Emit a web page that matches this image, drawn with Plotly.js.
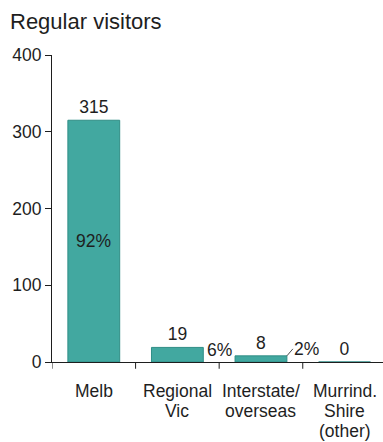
<!DOCTYPE html>
<html>
<head>
<meta charset="utf-8">
<script src="https://cdn.plot.ly/plotly-3.0.1.min.js"></script>
<style>
  html, body { margin: 0; padding: 0; background: #ffffff; }
  #chart { width: 383px; height: 442px; }
</style>
</head>
<body>
<div id="chart"></div>
<script>
// Where regular visitors come from
const categories = ['Melb', 'Regional\nVic', 'Interstate/\noverseas', 'Murrind.\nShire\n(other)'];
const visitors = [315, 19, 8, 0];
const shares = [92, 6, 2, null];

const yTicks = [0, 100, 200, 300, 400];

const barWidth = 0.62;
const barFill = '#42a8a0';
const barEdge = '#2f8d86';
const ink = '#1e1e1e';
const font = 'Liberation Sans, Arial, Helvetica, sans-serif';
const labelSize = 17.5;
const catLineGap = 20;   // px between lines of a category label
const catFirstLine = 29; // px from baseline to the first label line

const idx = categories.map((_, i) => i);

const bars = {
  type: 'bar',
  x: idx,
  y: visitors,
  width: barWidth,
  marker: { color: barFill, line: { color: barEdge, width: 1 } },
  text: visitors.map(v => String(v)),
  textposition: 'outside',
  cliponaxis: false,
  textfont: { family: font, size: labelSize, color: ink },
  hoverinfo: 'skip'
};

const annotations = [];

// category names under the axis, set line by line for tighter leading
categories.forEach((name, i) => {
  name.split('\n').forEach((line, j) => {
    annotations.push({
      x: i, y: 0, xref: 'x', yref: 'paper',
      yanchor: 'middle', yshift: -(catFirstLine + j * catLineGap),
      text: line, showarrow: false,
      font: { family: font, size: labelSize, color: ink }
    });
  });
});

// percentage labels: inside the tall bar, beside the short ones
shares.forEach((p, i) => {
  if (p === null) return;
  const label = p + '%';
  if (visitors[i] > 100) {
    annotations.push({
      x: i, y: visitors[i] / 2, text: label, showarrow: false,
      font: { family: font, size: labelSize, color: ink }
    });
  } else if (visitors[i] < 10) {
    // thin bar: label sits off the corner with a short leader
    annotations.push({
      x: i + barWidth / 2, y: visitors[i], text: label,
      xanchor: 'left', yanchor: 'middle',
      showarrow: true, arrowhead: 0, arrowwidth: 0.8, arrowcolor: ink,
      ax: 6, ay: -7, standoff: 0, borderpad: 0,
      font: { family: font, size: labelSize, color: ink }
    });
  } else {
    annotations.push({
      x: i + 0.5, y: 0, yshift: 12, text: label, showarrow: false,
      font: { family: font, size: labelSize, color: ink }
    });
  }
});

const layout = {
  width: 383,
  height: 442,
  margin: { l: 52, r: 0, t: 55, b: 80 },
  paper_bgcolor: '#ffffff',
  plot_bgcolor: '#ffffff',
  showlegend: false,
  bargap: 1 - barWidth,
  title: {
    text: 'Regular visitors',
    font: { family: font, size: 22, color: ink },
    xref: 'container', x: 10 / 383, xanchor: 'left',
    yref: 'container', y: 1 - 21 / 442, yanchor: 'middle'
  },
  xaxis: {
    type: 'linear',
    range: [-0.5, 3.46],
    tickvals: idx,
    showticklabels: false,
    ticks: '',
    showline: true, linecolor: ink, linewidth: 1,
    showgrid: false, zeroline: false,
    fixedrange: true
  },
  yaxis: {
    range: [0, 400],
    tickmode: 'array',
    tickvals: yTicks,
    ticks: 'outside', ticklen: 6, tickcolor: ink,
    showline: true, linecolor: ink, linewidth: 1,
    showgrid: false, zeroline: false,
    tickfont: { family: font, size: labelSize, color: ink },
    fixedrange: true
  },
  // category dividers below the baseline
  shapes: idx.map(i => ({
    type: 'line', xref: 'x', yref: 'paper',
    x0: i - 0.5, x1: i - 0.5, y0: 0, y1: -0.022,
    line: { color: ink, width: 1 }
  })),
  annotations: annotations
};

Plotly.newPlot('chart', [bars], layout, { displayModeBar: false, staticPlot: true });
</script>
</body>
</html>
